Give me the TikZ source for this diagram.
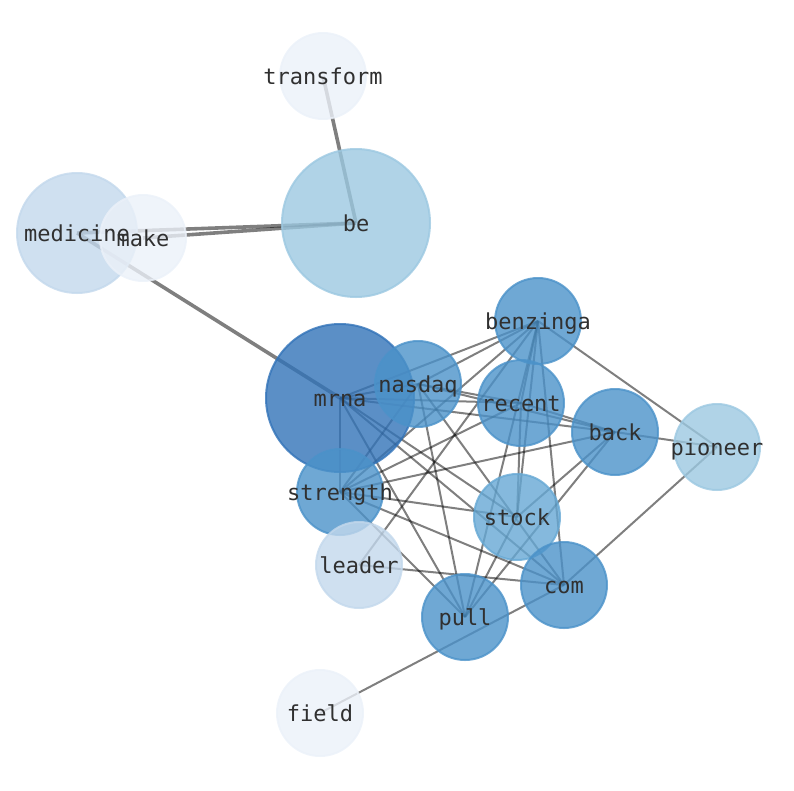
\documentclass[tikz,border=0pt]{standalone}
\usepackage{fontspec}
\setmonofont{DejaVu Sans Mono}
\definecolor{cDark}{RGB}{50,115,184}
\definecolor{cMid}{RGB}{75,146,201}
\definecolor{cStock}{RGB}{102,168,212}
\definecolor{cBe}{RGB}{156,200,225}
\definecolor{cMed}{RGB}{195,216,236}
\definecolor{cPale}{RGB}{235,241,249}
\definecolor{cText}{RGB}{48,48,48}
\tikzset{
  thinedge/.style={draw=black, draw opacity=0.5, line width=2pt},
  thickedge/.style={draw=black, draw opacity=0.5, line width=3.6pt},
  bubble/.style={circle, inner sep=0pt, outer sep=0pt, line width=2pt, fill opacity=0.8, draw opacity=0.8},
  big/.style={bubble, minimum size=148pt},
  medium/.style={bubble, minimum size=120pt},
  small/.style={bubble, minimum size=86pt},
  lbl/.style={inner sep=0pt, text=cText, font=\ttfamily\fontsize{22}{22}\selectfont, text height=21pt, text depth=4.4pt}
}
\begin{document}
\begin{tikzpicture}[x=1pt,y=-1pt]
\useasboundingbox (0,0) rectangle (794,790);
\coordinate (transform) at (323,76);
\coordinate (be) at (356,223);
\coordinate (medicine) at (77,233);
\coordinate (make) at (143,238);
\coordinate (benzinga) at (538,321);
\coordinate (mrna) at (340,398);
\coordinate (nasdaq) at (418,384);
\coordinate (recent) at (521,403);
\coordinate (back) at (615,432);
\coordinate (pioneer) at (717,447);
\coordinate (strength) at (340,492);
\coordinate (stock) at (517,517);
\coordinate (leader) at (359,565);
\coordinate (com) at (564,585);
\coordinate (pull) at (465,617);
\coordinate (field) at (320,713);
% edges
\draw[thickedge] (transform) -- (be);
\draw[thickedge] (be) -- (make);
\draw[thickedge] (be) -- (medicine);
\draw[thickedge] (medicine) -- (mrna);
\foreach \a/\b in {mrna/nasdaq, mrna/benzinga, mrna/recent, mrna/back, mrna/strength, mrna/stock, mrna/com, mrna/pull,
  nasdaq/benzinga, nasdaq/recent, nasdaq/back, nasdaq/strength, nasdaq/com, nasdaq/pull,
  benzinga/recent, benzinga/strength, benzinga/stock, benzinga/com, benzinga/pull, benzinga/leader, benzinga/pioneer,
  recent/back, recent/strength, recent/stock,
  back/strength, back/stock, back/pull, back/pioneer,
  strength/stock, strength/com, strength/pull,
  stock/pull,
  com/leader, com/pioneer, com/field}
  \draw[thinedge] (\a) -- (\b);
% nodes
\node[medium, fill=cMed, draw=cMed] (medicine-c) at (medicine) {};
\node[small, fill=cPale, draw=cPale] (make-c) at (make) {};
\node[big, fill=cDark, draw=cDark] (mrna-c) at (mrna) {};
\node[small, fill=cMid, draw=cMid] (nasdaq-c) at (nasdaq) {};
\node[small, fill=cMid, draw=cMid] (benzinga-c) at (benzinga) {};
\node[small, fill=cMid, draw=cMid] (recent-c) at (recent) {};
\node[small, fill=cMid, draw=cMid] (back-c) at (back) {};
\node[small, fill=cBe, draw=cBe] (pioneer-c) at (pioneer) {};
\node[small, fill=cMid, draw=cMid] (strength-c) at (strength) {};
\node[small, fill=cMed, draw=cMed] (leader-c) at (leader) {};
\node[small, fill=cStock, draw=cStock] (stock-c) at (stock) {};
\node[small, fill=cMid, draw=cMid] (com-c) at (com) {};
\node[small, fill=cMid, draw=cMid] (pull-c) at (pull) {};
\node[small, fill=cPale, draw=cPale] (transform-c) at (transform) {};
\node[big, fill=cBe, draw=cBe] (be-c) at (be) {};
\node[small, fill=cPale, draw=cPale] (field-c) at (field) {};
% labels
\foreach \n in {transform, be, medicine, make, benzinga, mrna, nasdaq, recent, back, pioneer, strength, stock, leader, com, pull, field}
  \node[lbl] (\n-l) at (\n) {\n};
\end{tikzpicture}
\end{document}
